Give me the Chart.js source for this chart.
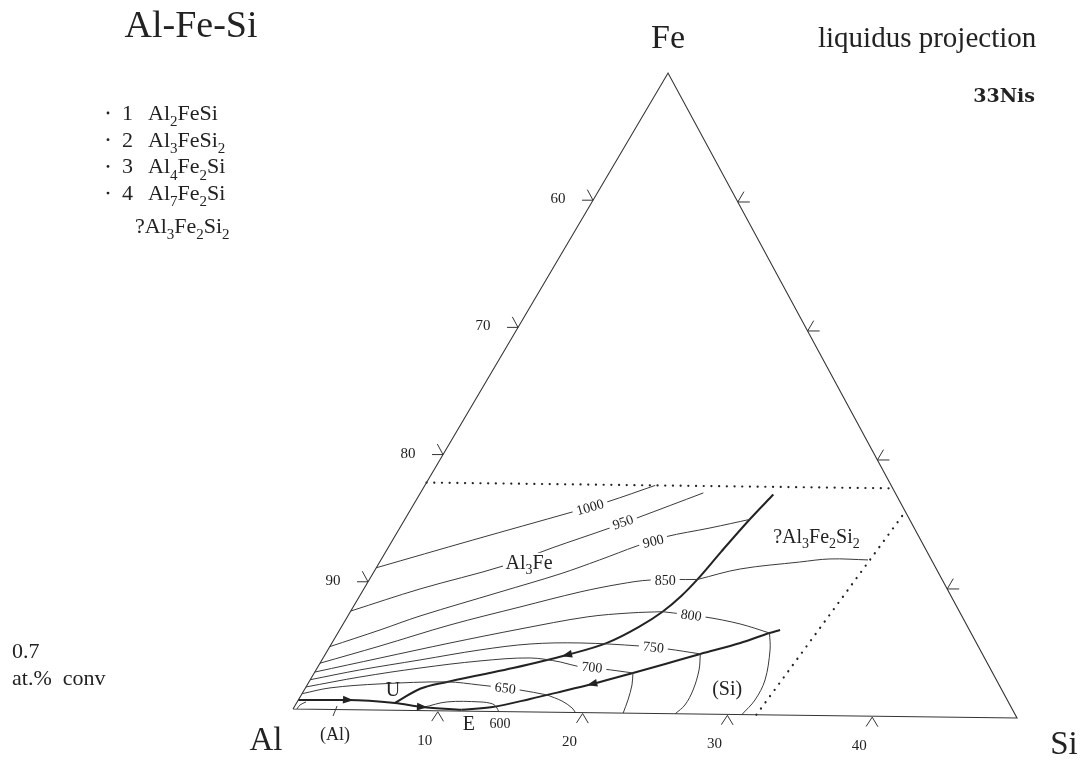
<!DOCTYPE html>
<html><head><meta charset="utf-8">
<script src="https://cdn.jsdelivr.net/npm/chart.js@4.4.1/dist/chart.umd.min.js"></script>
<style>html,body{margin:0;padding:0;background:#fff}#wrap{width:1082px;height:760px;position:relative}</style>
</head><body><div id="wrap"><canvas id="c" width="1082" height="760"></canvas></div>
<script>
// ---- data, compositions in at.% as [Si, Fe] ----
const triangle = [[0,0],[0,50],[50,0],[0,0]];
const dottedFe = [[0,17.8],[32.2,17.8]];
const dottedSi = [[32,0],[34,16]];
// univariant lines (thick)
const lineAl = [[0,0.7],[3.4,0.76],[6.75,0.57],[8.76,0.28],[11.6,0.1]];
const lineU = [[6.75,0.57],[7.9,1.7],[9.47,2.26],[11.45,2.84],[13.43,3.41],[16.6,4.48],[18.86,5.46],[20.4,6.74],[21.4,7.95],[22.05,9.2],[22.5,10.55],[23.0,12.7],[23.65,15.25],[24.26,17.2]];
const lineE = [[11.6,0.1],[13.6,0.35],[15.85,1.01],[17.6,1.59],[19.5,2.24],[21.85,3.14],[23.7,3.87],[25.7,4.69],[28.0,5.58],[29.6,6.39],[30.2,6.64]];
// isotherms (thin)
const iso1000 = [[0,11.1],[5.5,13.36],[11.2,15.65],[13.16,16.46],[15.8,17.8]];
const iso950 = [[0,7.7],[3.86,9.49],[8.62,11.36],[11.25,12.82],[14.4,14.43],[15.86,15.24],[19.4,17.26]];
const iso900 = [[0,4.9],[2.77,6.25],[4.95,7.38],[9.46,9.33],[12.85,10.8],[15.0,11.93],[17.0,13.06],[18.55,13.79],[21.27,14.53],[23.7,15.25]];
const iso850a = [[0,3.6],[3.42,5.0],[7.37,6.71],[11.44,8.18],[14.95,9.41],[17.37,10.07],[19.26,10.41],[22.5,10.5]];
const iso850b = [[22.5,10.5],[25.0,11.36],[28.8,11.96],[30.75,12.23],[33.4,12.19]];
const iso800a = [[0,2.9],[3.9,4.06],[8.1,5.3],[12.33,6.46],[16.44,7.47],[19.22,7.82],[21.4,7.95]];
const iso800b = [[21.4,7.95],[24.53,7.58],[27.21,7.07],[29.6,6.39]];
const iso800c = [[29.6,6.39],[30.32,5.07],[31.19,2.72],[31.31,1.15],[31.0,0]];
const iso750a = [[0,2.3],[3.0,3.11],[6.73,3.95],[10.44,4.79],[13.62,5.3],[17.0,5.43],[21.24,5.25],[23.22,5.05],[25.7,4.69]];
const iso750b = [[25.7,4.69],[26.26,3.44],[26.66,1.87],[26.71,0.69],[26.4,0]];
const iso700a = [[0,1.73],[3.3,2.56],[7.05,3.32],[10.88,3.93],[14.19,4.21],[16.41,3.93],[17.98,3.56],[19.64,3.42],[21.85,3.14]];
const iso700b = [[21.85,3.14],[22.27,2.2],[22.6,1.03],[22.8,0]];
const iso650a = [[0,1.2],[1.69,1.68],[4.95,2.04],[9.47,2.26],[11.85,2.05],[14.8,1.7],[16.85,1.34]];
const iso650b = [[16.85,1.34],[18.12,0.88],[19.09,0.35],[19.5,0]];
const iso600 = [[8.9,0.26],[10.28,0.7],[12.54,0.73],[13.5,0.58],[13.95,0.27],[14.16,0.04]];
const alArc = [[0.27,0],[0.32,0.32],[0.61,0.56]];
const alPointer = [[3.03,-0.51],[2.9,0.28]];
// arrows on univariant lines: position and the point they point to
const arrows = [{at:[3.4,0.76],to:[6.75,0.57]},{at:[8.76,0.28],to:[11.6,0.1]},{at:[16.6,4.48],to:[13.43,3.41]},{at:[19.5,2.24],to:[17.6,1.59]}];
// tick labels
const leftTicks = [60,70,80,90];     // at.% Al on the Al-Fe edge
const bottomTicks = [10,20,30,40];   // at.% Si on the Al-Si edge
const rightTicks = [10,20,30,40];    // at.% Si on the 50 % Al edge
// isotherm labels (°C)
const isoLabels = [
  {t:'1000',at:[12.2,16.05],rot:-16},{t:'950',at:[15.06,14.91],rot:-19},{t:'900',at:[17.9,13.46],rot:-14},
  {t:'850',at:[20.3,10.43],rot:0},{t:'800',at:[23.5,7.72],rot:8},{t:'750',at:[22.2,5.19],rot:6},
  {t:'700',at:[18.8,3.57],rot:5},{t:'650',at:[13.7,1.85],rot:7}];
// phase / point labels
const fieldLabels = [
  {t:'Al3Fe',at:[10.24,11.7],size:20,bg:true},{t:'?Al3Fe2Si2',at:[28.9,14.0],size:20},
  {t:'(Si)',at:[29.0,1.9],size:20,plain:true},{t:'U',at:[6.13,1.5],size:20,plain:true},
  {t:'E',at:[12.7,-1.08],size:20,plain:true},{t:'600',at:[14.8,-0.97],size:14,plain:true},
  {t:'(Al)',at:[3.93,-1.99],size:18,plain:true}];
const legendNums = ['1','2','3','4'];
const legendPhases = ['Al2FeSi','Al3FeSi2','Al4Fe2Si','Al7Fe2Si'];
const legendExtra = '?Al3Fe2Si2';

// ---- projection of ternary composition onto chart axes ----
const K = 0.518, M = 0.01415;
const toXY = ([s,f]) => ({x: s + K*f, y: f - M*s});

const INK = '#222', THIN = '#3a3a3a';
const SERIF = '"Liberation Serif", "DejaVu Serif", serif';

function ds(arr, opt){
  return Object.assign({data: arr.map(toXY), showLine:true, pointRadius:0, fill:false,
    borderColor:THIN, borderWidth:1, tension:0.35, clip:false}, opt||{});
}
const datasets = [
  ds(triangle,{borderColor:'#333',borderWidth:1.1,tension:0}),
  ds(dottedFe,{borderColor:INK,borderWidth:2.2,tension:0,borderDash:[0.1,7.6],borderCapStyle:'round'}),
  ds(dottedSi,{borderColor:INK,borderWidth:2.2,tension:0,borderDash:[0.1,7.6],borderCapStyle:'round'}),
  ...[iso1000,iso950,iso900,iso850a,iso850b,iso800a,iso800b,iso800c,iso750a,iso750b,iso700a,iso700b,iso650a,iso650b,iso600,alArc].map(a=>ds(a)),
  ds(alPointer,{tension:0}),
  ...[lineAl,lineU,lineE].map(a=>ds(a,{borderColor:INK,borderWidth:2,tension:0.4,cubicInterpolationMode:'monotone'}))
];

function drawFormula(ctx, text, x, y, size, align){
  const parts = text.match(/\d+|[^\d]+/g);
  const big = size+'px '+SERIF, small = Math.round(size*0.68)+'px '+SERIF;
  let w = 0;
  parts.forEach(p=>{ctx.font = /\d/.test(p[0])?small:big; w += ctx.measureText(p).width;});
  let cx = align==='center' ? x-w/2 : (align==='right' ? x-w : x);
  ctx.textAlign='left'; ctx.textBaseline='alphabetic';
  parts.forEach(p=>{const sub=/\d/.test(p[0]); ctx.font=sub?small:big;
    ctx.fillText(p, cx, y + (sub? size*0.28 : 0)); cx += ctx.measureText(p).width;});
  return w;
}
function text(ctx, t, x, y, font, align, base){
  ctx.font = font; ctx.textAlign = align||'left'; ctx.textBaseline = base||'alphabetic'; ctx.fillText(t,x,y);
}

const decor = {
  id:'decor',
  afterDatasetsDraw(chart){
    const ctx = chart.ctx, xs = chart.scales.x, ys = chart.scales.y;
    const P = c => { const v = toXY(c); return [xs.getPixelForValue(v.x), ys.getPixelForValue(v.y)]; };
    const unit = (a,b)=>{const dx=b[0]-a[0],dy=b[1]-a[1],l=Math.hypot(dx,dy);return [dx/l,dy/l];};
    const A = P([0,0]), F = P([0,50]), S = P([50,0]);
    const leftDir = unit(A,F);   // up-right, along Al-Fe edge
    const rightDir = unit(S,F);  // up-left, along right edge
    ctx.save();
    ctx.strokeStyle = '#333'; ctx.lineWidth = 1; ctx.fillStyle = INK;
    const L = 12;
    // left ticks
    leftTicks.forEach(v=>{
      const [x,y] = P([0,100-v]);
      ctx.beginPath(); ctx.moveTo(x-11,y); ctx.lineTo(x,y); ctx.lineTo(x+rightDir[0]*L, y+rightDir[1]*L); ctx.stroke();
      text(ctx, String(v), x-35, y-1, '15px '+SERIF, 'center', 'middle');
    });
    // right ticks
    rightTicks.forEach(v=>{
      const [x,y] = P([v,50-v]);
      ctx.beginPath(); ctx.moveTo(x+12,y); ctx.lineTo(x,y); ctx.lineTo(x+leftDir[0]*L, y+leftDir[1]*L); ctx.stroke();
    });
    // bottom ticks
    bottomTicks.forEach(v=>{
      const [x,y] = P([v,0]);
      ctx.beginPath(); ctx.moveTo(x-leftDir[0]*L, y-leftDir[1]*L); ctx.lineTo(x,y+1); ctx.lineTo(x-rightDir[0]*L, y-rightDir[1]*L); ctx.stroke();
      text(ctx, String(v), x-13, y+30, '15px '+SERIF, 'center', 'middle');
    });
    // arrows
    arrows.forEach(a=>{
      const p = P(a.at), q = P(a.to), d = unit(p,q), n = [-d[1], d[0]];
      ctx.beginPath();
      ctx.moveTo(p[0]+d[0]*5.5, p[1]+d[1]*5.5);
      ctx.lineTo(p[0]-d[0]*5+n[0]*3.8, p[1]-d[1]*5+n[1]*3.8);
      ctx.lineTo(p[0]-d[0]*5-n[0]*3.8, p[1]-d[1]*5-n[1]*3.8);
      ctx.closePath(); ctx.fill();
    });
    // isotherm labels
    isoLabels.forEach(l=>{
      const [x,y] = P(l.at);
      ctx.save(); ctx.translate(x,y); ctx.rotate(l.rot*Math.PI/180);
      ctx.font = '14px '+SERIF; const w = ctx.measureText(l.t).width;
      ctx.fillStyle = '#fff'; ctx.fillRect(-w/2-4,-6,w+8,12);
      ctx.fillStyle = INK; ctx.textAlign='center'; ctx.textBaseline='middle'; ctx.fillText(l.t,0,1);
      ctx.restore();
    });
    // field labels
    fieldLabels.forEach(l=>{
      const [x,y] = P(l.at);
      if (l.plain){ text(ctx, l.t, x, y, l.size+'px '+SERIF, 'center', 'middle'); return; }
      if (l.bg){
        ctx.font = l.size+'px '+SERIF; const w = ctx.measureText(l.t).width*0.92;
        ctx.fillStyle='#fff'; ctx.fillRect(x-w/2-3, y-l.size*0.45, w+6, l.size*0.95); ctx.fillStyle=INK;
      }
      drawFormula(ctx, l.t, x, y+l.size*0.33, l.size, 'center');
    });
    // corner labels and titles
    text(ctx, 'Al', 266, 750, '33px '+SERIF, 'center');
    text(ctx, 'Si', 1064, 754, '33px '+SERIF, 'center');
    text(ctx, 'Fe', 668, 48, '34px '+SERIF, 'center');
    text(ctx, 'Al-Fe-Si', 191, 37, '38px '+SERIF, 'center');
    text(ctx, 'liquidus projection', 818, 47, '29px '+SERIF, 'left');
    text(ctx, '33Nis', 1035, 102, 'bold 19px "DejaVu Serif", serif', 'right');
    text(ctx, '0.7', 12, 658, '22px '+SERIF, 'left');
    text(ctx, 'at.%  conv', 12, 685, '22px '+SERIF, 'left');
    // legend of ternary phases
    legendNums.forEach((n,i)=>{
      const yb = 120 + i*26.7;
      ctx.beginPath(); ctx.arc(108, yb-7, 1.4, 0, Math.PI*2); ctx.fill();
      text(ctx, n, 122, yb, '22px '+SERIF, 'left');
      drawFormula(ctx, legendPhases[i], 148, yb, 22, 'left');
    });
    drawFormula(ctx, legendExtra, 135, 233, 22, 'left');
    ctx.restore();
  }
};

new Chart(document.getElementById('c').getContext('2d'), {
  type:'scatter',
  data:{datasets},
  options:{
    responsive:false, animation:false, devicePixelRatio:1, events:[],
    layout:{padding:{left:293,right:65,top:73,bottom:25.6}},
    scales:{x:{type:'linear',min:0,max:50,display:false},y:{type:'linear',min:-2,max:50,display:false}},
    plugins:{legend:{display:false},tooltip:{enabled:false},title:{display:false}}
  },
  plugins:[decor]
});
</script></body></html>
